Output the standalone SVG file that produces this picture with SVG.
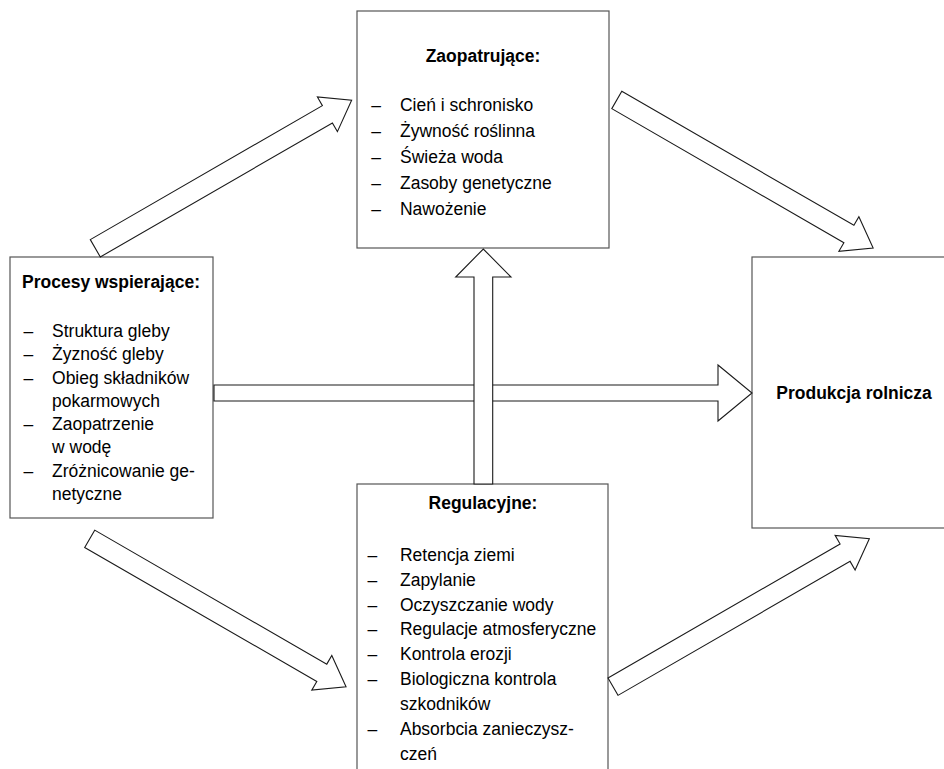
<svg xmlns="http://www.w3.org/2000/svg" width="944" height="769" viewBox="0 0 944 769">
<style>
.box{fill:#fff;stroke:#555;stroke-width:1.2}
.arr{fill:#fff;stroke:#1a1a1a;stroke-width:1.1;stroke-linejoin:miter}
text{font-family:"Liberation Sans",Arial,sans-serif;font-size:19px;fill:#000}
.t{font-weight:bold}
.c{text-anchor:middle}
</style>
<defs>
<path id="diag" d="M0,-10 L268,-10 L268,-20 L296,0 L268,20 L268,10 L0,10 Z"/>
</defs>
<rect width="944" height="769" fill="#fff"/>
<g id="provisioning">
<rect class="box" x="357" y="11" width="252" height="237"/>
<g transform="scale(0.921,1)">
<text class="t c" x="524.4" y="62">Zaopatrujące:</text>
<text x="403" y="111">–</text><text x="434.3" y="111">Cień i schronisko</text>
<text x="403" y="137">–</text><text x="434.3" y="137">Żywność roślinna</text>
<text x="403" y="163">–</text><text x="434.3" y="163">Świeża woda</text>
<text x="403" y="189">–</text><text x="434.3" y="189">Zasoby genetyczne</text>
<text x="403" y="215">–</text><text x="434.3" y="215">Nawożenie</text>
</g>
</g>
<g id="supporting">
<rect class="box" x="10" y="257" width="203" height="261"/>
<g transform="scale(0.921,1)">
<text class="t" x="24" y="288">Procesy wspierające:</text>
<text x="25.5" y="337">–</text><text x="56.5" y="337">Struktura gleby</text>
<text x="25.5" y="360">–</text><text x="56.5" y="360">Żyzność gleby</text>
<text x="25.5" y="384">–</text><text x="56.5" y="384">Obieg składników</text>
<text x="56.5" y="407">pokarmowych</text>
<text x="25.5" y="430">–</text><text x="56.5" y="430">Zaopatrzenie</text>
<text x="56.5" y="453">w wodę</text>
<text x="25.5" y="477">–</text><text x="56.5" y="477">Zróżnicowanie ge-</text>
<text x="56.5" y="500">netyczne</text>
</g>
</g>
<g id="regulating">
<rect class="box" x="357" y="484" width="251" height="300"/>
<g transform="scale(0.921,1)">
<text class="t c" x="524.4" y="509">Regulacyjne:</text>
<text x="399" y="561">–</text><text x="434.3" y="561">Retencja ziemi</text>
<text x="399" y="586">–</text><text x="434.3" y="586">Zapylanie</text>
<text x="399" y="611">–</text><text x="434.3" y="611">Oczyszczanie wody</text>
<text x="399" y="635">–</text><text x="434.3" y="635">Regulacje atmosferyczne</text>
<text x="399" y="660">–</text><text x="434.3" y="660">Kontrola erozji</text>
<text x="399" y="685">–</text><text x="434.3" y="685">Biologiczna kontrola</text>
<text x="434.3" y="710">szkodników</text>
<text x="399" y="735">–</text><text x="434.3" y="735">Absorbcia zanieczysz-</text>
<text x="434.3" y="760">czeń</text>
</g>
</g>
<g id="production">
<rect class="box" x="752" y="257" width="210" height="271"/>
<g transform="scale(0.921,1)">
<text class="t c" x="927.3" y="399">Produkcja rolnicza</text>
</g>
</g>
<g id="connectors">
<use href="#diag" class="arr" transform="translate(95.3,248.3) rotate(-30)"/>
<use href="#diag" class="arr" transform="translate(616.8,100) rotate(30)"/>
<use href="#diag" class="arr" transform="translate(89.7,538.8) rotate(30)"/>
<use href="#diag" class="arr" transform="translate(613,686.7) rotate(-30)"/>
<path class="arr" d="M214,385 L718,385 L718,365 L752,393 L718,421 L718,401 L214,401 Z"/>
<path class="arr" d="M474,484 L474,277 L455.7,277 L483.3,249 L511,277 L492.7,277 L492.7,484 Z"/>
</g>
</svg>
